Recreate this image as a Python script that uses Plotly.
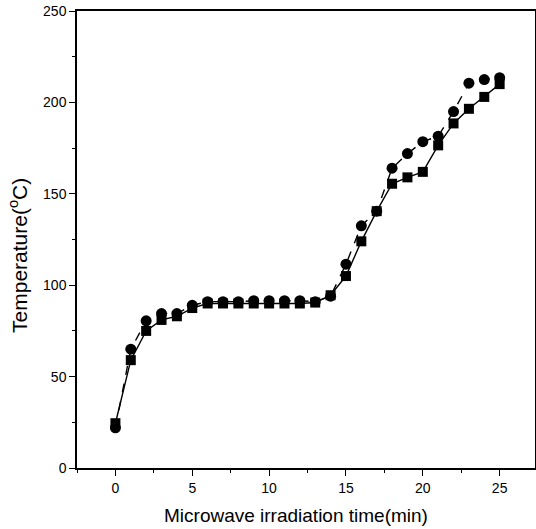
import plotly.graph_objects as go

time_min = list(range(0, 26))
temp_squares = [24.5, 59, 75, 81, 83, 87.5, 90, 90, 90, 90, 90, 90, 90, 90.5, 94.5,
                105, 124, 140.5, 155.5, 159, 162, 176.5, 188.5, 196.5, 203, 210]
temp_circles = [22, 65, 80.5, 84.5, 84.5, 89, 91, 91, 91, 91.5, 91.5, 91.5, 91.5, 91, 94,
                111.5, 132.5, 140.5, 164, 172, 178.5, 181.5, 195, 210.5, 212.5, 213.5]
x_title = "Microwave irradiation time(min)"
y_title = "Temperature(<sup>o</sup>C)"

fig = go.Figure()
fig.add_trace(go.Scatter(
    x=time_min, y=temp_squares, mode="lines+markers",
    line=dict(color="black", width=1.4, dash="solid"),
    marker=dict(symbol="square", size=10, color="black"),
    showlegend=False))
fig.add_trace(go.Scatter(
    x=time_min, y=temp_circles, mode="lines+markers",
    line=dict(color="black", width=1.4, dash="dash"),
    marker=dict(symbol="circle", size=11, color="black"),
    showlegend=False))

font_family = "Liberation Sans, Arial, sans-serif"
fig.update_layout(
    width=536, height=529,
    margin=dict(l=77, r=1, t=11, b=61, autoexpand=False),
    paper_bgcolor="white", plot_bgcolor="white",
    font=dict(family=font_family, color="black", size=14),
    xaxis=dict(
        range=[-2.5, 27.3], tickvals=[0, 5, 10, 15, 20, 25],
        ticks="outside", ticklen=6, tickwidth=1, tickcolor="black",
        minor=dict(dtick=2.5, tick0=0, ticks="outside", ticklen=3, tickcolor="black"),
        showline=True, linecolor="black", linewidth=1.5, mirror=True,
        showgrid=False, zeroline=False, automargin=False,
        tickfont=dict(size=14),
    ),
    yaxis=dict(
        range=[0, 250], tickvals=[0, 50, 100, 150, 200, 250],
        ticks="outside", ticklen=6, tickwidth=1, tickcolor="black",
        minor=dict(dtick=25, tick0=0, ticks="outside", ticklen=3, tickcolor="black"),
        showline=True, linecolor="black", linewidth=1.5, mirror=True,
        showgrid=False, zeroline=False, automargin=False,
        tickfont=dict(size=14),
    ),
    annotations=[
        dict(text=x_title, xref="paper", yref="paper", x=0.478, y=-0.103,
             xanchor="center", yanchor="middle", showarrow=False,
             font=dict(size=19)),
        dict(text=y_title, xref="paper", yref="paper", x=-0.1288, y=0.464,
             xanchor="center", yanchor="middle", showarrow=False, textangle=-90,
             font=dict(size=21)),
    ],
)

fig.write_html("out.html", config={"displayModeBar": False},
               post_script="document.body.style.margin='0';document.body.style.padding='0';")
